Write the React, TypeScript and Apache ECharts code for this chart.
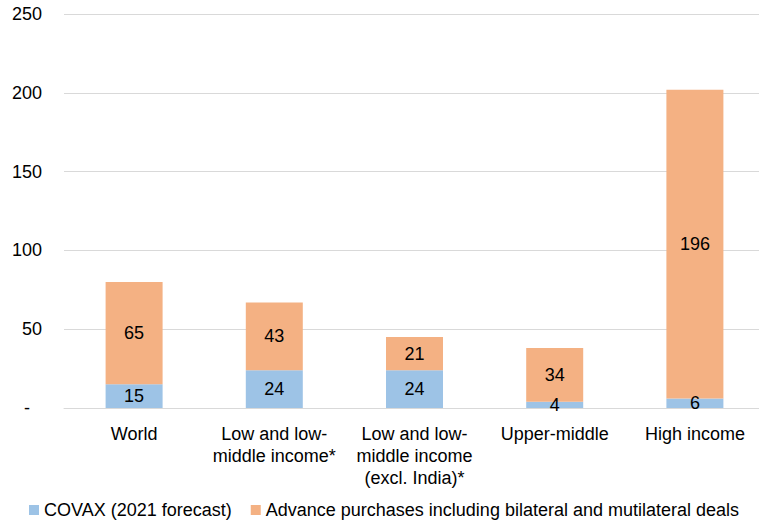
import React, { useEffect, useRef } from "react";
import * as echarts from "echarts";

const categories = [
  "World",
  "Low and low-\nmiddle income*",
  "Low and low-\nmiddle income\n(excl. India)*",
  "Upper-middle",
  "High income",
];
const covax = [15, 24, 24, 4, 6];
const advance = [65, 43, 21, 34, 196];
const seriesNames = [
  "COVAX (2021 forecast)",
  "Advance purchases including bilateral and mutilateral deals",
];

const FONT = "Liberation Sans";

export default function App() {
  const ref = useRef<HTMLDivElement>(null);
  useEffect(() => {
    document.body.style.overflow = "hidden";
    if (!ref.current) return;
    const chart = echarts.init(ref.current, undefined, { renderer: "svg" });
    const label = {
      show: true,
      position: "inside",
      color: "#000",
      fontFamily: FONT,
      fontSize: 18,
    };
    chart.setOption({
      animation: false,
      textStyle: { fontFamily: FONT },
      grid: { left: 64, right: 0, top: 14, bottom: 116, containLabel: false },
      legend: {
        left: 29,
        top: 498,
        padding: 0,
        itemWidth: 10,
        itemHeight: 10,
        itemGap: 19,
        icon: "rect",
        textStyle: { fontFamily: FONT, fontSize: 18, color: "#000", lineHeight: 24 },
        data: seriesNames,
      },
      xAxis: {
        type: "category",
        data: categories,
        axisTick: { show: false },
        axisLine: { lineStyle: { color: "#d9d9d9", width: 1 } },
        axisLabel: {
          interval: 0,
          margin: 15,
          color: "#000",
          fontFamily: FONT,
          fontSize: 18,
          lineHeight: 22,
        },
      },
      yAxis: {
        type: "value",
        min: 0,
        max: 250,
        interval: 50,
        axisLine: { show: false },
        axisTick: { show: false },
        splitLine: { lineStyle: { color: "#d9d9d9", width: 1 } },
        axisLabel: {
          margin: 22,
          color: "#000",
          fontFamily: FONT,
          fontSize: 18,
          formatter: (v: number) => (v === 0 ? "{z|-}" : String(v)),
          rich: { z: { padding: [0, 12, 0, 0], fontSize: 18, fontFamily: FONT, color: "#000" } },
        },
      },
      series: [
        {
          name: seriesNames[0],
          type: "bar",
          stack: "total",
          barWidth: 57,
          data: covax,
          itemStyle: { color: "#9DC3E6" },
          label,
        },
        {
          name: seriesNames[1],
          type: "bar",
          stack: "total",
          barWidth: 57,
          data: advance,
          itemStyle: { color: "#F4B183" },
          label,
        },
      ],
    });
    return () => chart.dispose();
  }, []);
  return (
    <div
      ref={ref}
      style={{ position: "fixed", left: 0, top: 0, width: 765, height: 524, background: "#fff" }}
    />
  );
}
